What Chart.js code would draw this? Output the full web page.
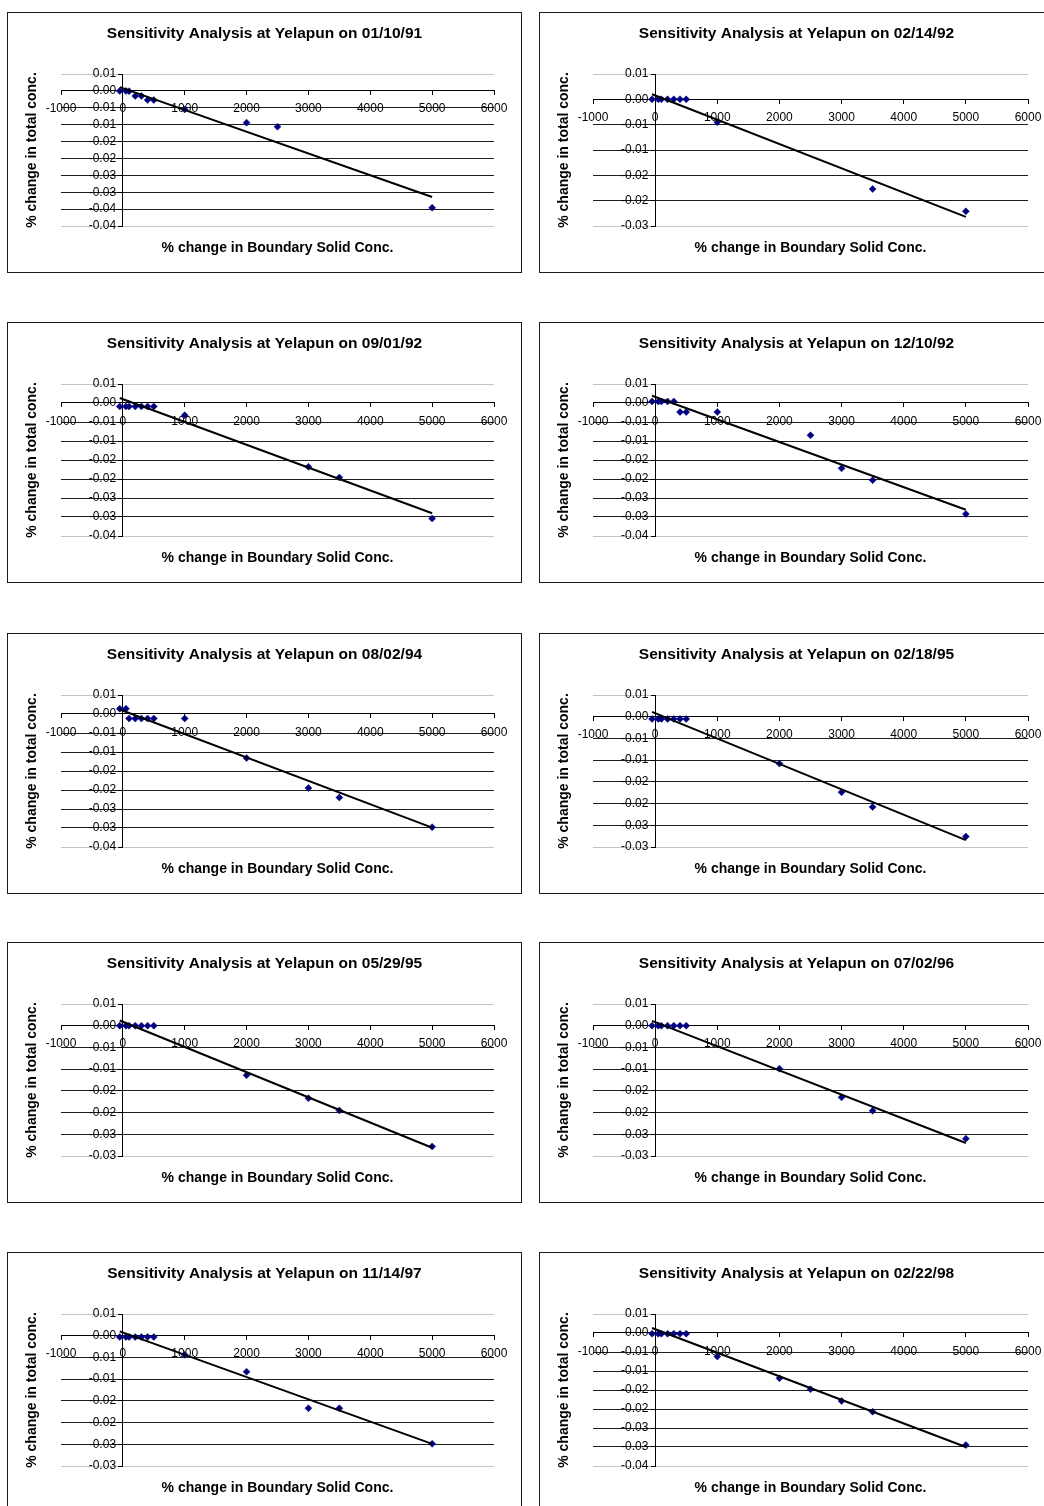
<!DOCTYPE html>
<html>
<head>
<meta charset="utf-8">
<title>Sensitivity Analysis at Yelapun</title>
<script src="https://cdn.jsdelivr.net/npm/chart.js@4.4.1/dist/chart.umd.min.js"></script>
<style>
    html, body { margin: 0; padding: 0; background: #fff; }
    body { width: 1044px; height: 1506px; position: relative; overflow: hidden; }
    .panel { position: absolute; box-sizing: border-box; border: 1px solid #1c1c1c; background: #fff; }
    .panel canvas { display: block; }
</style>
</head>
<body>
<script>
// ============================================================
// DATA — % change in total conc. vs % change in boundary solid conc.
// ============================================================
const dates = ["01/10/91", "02/14/92", "09/01/92", "12/10/92", "08/02/94",
               "02/18/95", "05/29/95", "07/02/96", "11/14/97", "02/22/98"];

const xTicks = [-1000, 0, 1000, 2000, 3000, 4000, 5000, 6000];
const yTop = 0.005;
const yStep = 0.005;
const yFloor = [-0.04, -0.025, -0.035, -0.035, -0.035, -0.03, -0.03, -0.03, -0.03, -0.035];

const xJan91 = [-50, 50, 100, 200, 300, 400, 500, 1000, 2000, 2500, 5000];
const yJan91 = [0, 0, -0.0001, -0.0015, -0.0015, -0.0027, -0.0027, -0.0055, -0.0094, -0.0106, -0.0346];

const xFeb92 = [-50, 50, 100, 200, 300, 400, 500, 1000, 3500, 5000];
const yFeb92 = [0, 0, 0, 0, 0, 0, 0, -0.0045, -0.0177, -0.0221];

const xSep92 = [-50, 50, 100, 200, 300, 400, 500, 1000, 3000, 3500, 5000];
const ySep92 = [-0.0009, -0.0009, -0.0009, -0.0009, -0.0009, -0.0009, -0.0009, -0.0032, -0.0168, -0.0196, -0.0304];

const xDec92 = [-50, 50, 100, 200, 300, 400, 500, 1000, 2500, 3000, 3500, 5000];
const yDec92 = [0.0004, 0.0004, 0.0004, 0.0004, 0.0004, -0.0024, -0.0024, -0.0024, -0.0085, -0.0172, -0.0203, -0.0292];

const xAug94 = [-50, 50, 100, 200, 300, 400, 500, 1000, 2000, 3000, 3500, 5000];
const yAug94 = [0.0014, 0.0014, -0.0012, -0.0012, -0.0012, -0.0012, -0.0012, -0.0012, -0.0116, -0.0195, -0.022, -0.0298];

const xFeb95 = [-50, 50, 100, 200, 300, 400, 500, 2000, 3000, 3500, 5000];
const yFeb95 = [-0.0005, -0.0005, -0.0005, -0.0005, -0.0005, -0.0005, -0.0005, -0.0108, -0.0174, -0.0208, -0.0276];

const xMay95 = [-50, 50, 100, 200, 300, 400, 500, 2000, 3000, 3500, 5000];
const yMay95 = [0, 0, 0, 0, 0, 0, 0, -0.0114, -0.0167, -0.0195, -0.0278];

const xJul96 = [-50, 50, 100, 200, 300, 400, 500, 2000, 3000, 3500, 5000];
const yJul96 = [0, 0, 0, 0, 0, 0, 0, -0.0099, -0.0165, -0.0196, -0.026];

const xNov97 = [-50, 50, 100, 200, 300, 400, 500, 1000, 2000, 3000, 3500, 5000];
const yNov97 = [-0.0003, -0.0003, -0.0003, -0.0003, -0.0003, -0.0003, -0.0003, -0.0044, -0.0083, -0.0167, -0.0167, -0.0249];

const xFeb98 = [-50, 50, 100, 200, 300, 400, 500, 1000, 2000, 2500, 3000, 3500, 5000];
const yFeb98 = [-0.0002, -0.0002, -0.0002, -0.0002, -0.0002, -0.0002, -0.0002, -0.0062, -0.0119, -0.0148, -0.0179, -0.0207, -0.0295];

// Linear trend line values at the first and last sample of each run
const trendJan91 = [0.0011, -0.0314];
const trendFeb92 = [0.0010, -0.0232];
const trendSep92 = [0.0013, -0.0290];
const trendDec92 = [0.0019, -0.0281];
const trendAug94 = [0.0012, -0.0299];
const trendFeb95 = [0.0011, -0.0284];
const trendMay95 = [0.0012, -0.0281];
const trendJul96 = [0.0011, -0.0270];
const trendNov97 = [0.0010, -0.0249];
const trendFeb98 = [0.0013, -0.0300];

const xs = [xJan91, xFeb92, xSep92, xDec92, xAug94, xFeb95, xMay95, xJul96, xNov97, xFeb98];
const ys = [yJan91, yFeb92, ySep92, yDec92, yAug94, yFeb95, yMay95, yJul96, yNov97, yFeb98];
const trends = [trendJan91, trendFeb92, trendSep92, trendDec92, trendAug94,
                trendFeb95, trendMay95, trendJul96, trendNov97, trendFeb98];

// ============================================================
// LAYOUT
// ============================================================
const COL_X = [7, 539];
const PANEL_W = 515;
const PANEL_H = 261;
const ROW_Y = [12, 322, 633, 942, 1252];
const PAD = [
    { left: 53, right: 27, top: 61, bottom: 46 },
    { left: 53, right: 25, top: 61, bottom: 46 }
];
const TITLE_X = 256.5;

const FONT = '"Liberation Sans", Arial, sans-serif';
Chart.defaults.font.family = FONT;
Chart.defaults.color = "#000";

// Two-decimal labels, halves rounded away from zero (0.005 -> 0.01)
function fmtTick(v) {
    const m = Math.round(Math.abs(v) * 1000);
    const h = Math.round(m / 10);
    return (v < 0 && m > 0 ? "-" : "") + (h / 100).toFixed(2);
}

// Chart title and axis titles
const panelText = {
    id: "panelText",
    afterDraw(chart, args, opts) {
        const { ctx, chartArea } = chart;
        ctx.save();
        ctx.fillStyle = "#000";
        ctx.textAlign = "center";
        ctx.textBaseline = "middle";
        ctx.font = "bold 15.5px " + FONT;
        ctx.fillText(opts.title, TITLE_X, 20.5);
        ctx.font = "bold 14px " + FONT;
        ctx.fillText("% change in Boundary Solid Conc.", (chartArea.left + chartArea.right) / 2, chartArea.bottom + 22);
        ctx.translate(24.5, (chartArea.top + chartArea.bottom) / 2);
        ctx.rotate(-Math.PI / 2);
        ctx.fillText("% change in total conc.", 0, 0);
        ctx.restore();
    }
};

function buildPanel(i) {
    const col = i % 2;
    const row = Math.floor(i / 2);

    const box = document.createElement("div");
    box.className = "panel";
    box.style.left = COL_X[col] + "px";
    box.style.top = ROW_Y[row] + "px";
    box.style.width = PANEL_W + "px";
    box.style.height = PANEL_H + "px";

    const canvas = document.createElement("canvas");
    canvas.width = PANEL_W - 2;
    canvas.height = PANEL_H - 2;
    box.appendChild(canvas);
    document.body.appendChild(box);

    const xv = xs[i];
    const yv = ys[i];
    const points = xv.map((x, k) => ({ x: x, y: yv[k] }));
    const trend = [
        { x: xv[0], y: trends[i][0] },
        { x: xv[xv.length - 1], y: trends[i][1] }
    ];
    const yMin = yFloor[i];
    const tickFont = { size: 12, family: FONT };

    new Chart(canvas, {
        type: "scatter",
        data: {
            datasets: [
                {
                    label: "Trend",
                    data: trend,
                    showLine: true,
                    borderColor: "#000",
                    borderWidth: 2,
                    pointRadius: 0
                },
                {
                    label: "% change in total conc.",
                    data: points,
                    pointStyle: "rectRot",
                    pointRadius: 3.5,
                    backgroundColor: "#000080",
                    borderColor: "#000080",
                    borderWidth: 0.5
                }
            ]
        },
        options: {
            responsive: false,
            animation: false,
            events: [],
            layout: { padding: PAD[col] },
            plugins: {
                legend: { display: false },
                tooltip: { enabled: false },
                panelText: { title: "Sensitivity Analysis at Yelapun on " + dates[i] }
            },
            scales: {
                x: {
                    type: "linear",
                    min: xTicks[0],
                    max: xTicks[xTicks.length - 1],
                    position: { y: 0 },
                    ticks: {
                        stepSize: xTicks[1] - xTicks[0],
                        autoSkip: false,
                        maxRotation: 0,
                        padding: 7,
                        color: "#000",
                        font: tickFont,
                        callback: (v) => String(v)
                    },
                    grid: { drawOnChartArea: false, drawTicks: true, tickLength: 4, color: "#000" },
                    border: { color: "#000", width: 1 }
                },
                y: {
                    type: "linear",
                    min: yMin,
                    max: yTop,
                    position: { x: 0 },
                    ticks: { stepSize: yStep, display: false },
                    grid: {
                        tickLength: 4,
                        tickColor: "#000",
                        color: (c) => {
                            const n = c.chart.scales.y.ticks.length;
                            return (c.index === 0 || c.index === n - 1) ? "#c4c4c4" : "#1e1e1e";
                        }
                    },
                    border: { color: "#000", width: 1 }
                },
                // tick labels sit a little left of the vertical axis
                yLabels: {
                    type: "linear",
                    axis: "y",
                    min: yMin,
                    max: yTop,
                    position: { x: -110 },
                    ticks: { stepSize: yStep, autoSkip: false, callback: fmtTick, color: "#000", font: tickFont },
                    grid: { display: false },
                    border: { display: false }
                }
            }
        },
        plugins: [panelText]
    });
}

dates.forEach((d, i) => buildPanel(i));
</script>
</body>
</html>
